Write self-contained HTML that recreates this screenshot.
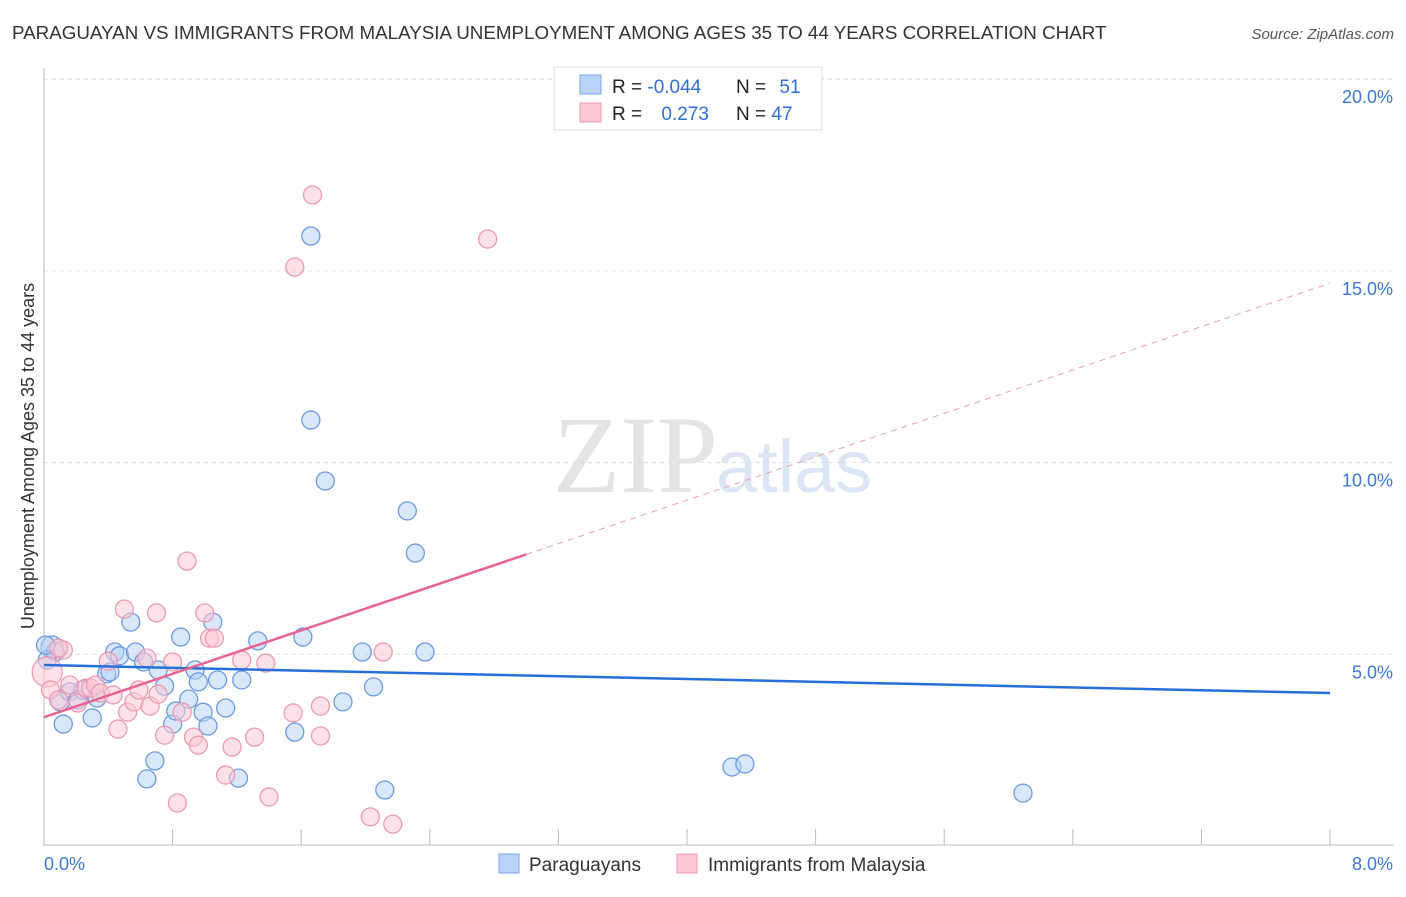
<!DOCTYPE html>
<html><head><meta charset="utf-8"><style>
body{margin:0;background:#fff;font-family:"Liberation Sans",sans-serif;}
svg text{font-family:"Liberation Sans",sans-serif;}
</style></head><body>
<svg id="c" width="1406" height="892" xmlns="http://www.w3.org/2000/svg">
<text x="12" y="39" font-size="18.8" fill="#333">PARAGUAYAN VS IMMIGRANTS FROM MALAYSIA UNEMPLOYMENT AMONG AGES 35 TO 44 YEARS CORRELATION CHART</text>
<text x="1394" y="39" font-size="15" fill="#555" text-anchor="end" font-style="italic">Source: ZipAtlas.com</text>
<text x="553" y="492" font-size="110" fill="#e4e4e4" style="font-family:'Liberation Serif',serif">ZIP</text>
<text x="716" y="492" font-size="74" fill="#dbe6f4">atlas</text>
<g id="grid"></g>
<g id="marks"></g>
<text transform="translate(34,456) rotate(-90)" font-size="18" fill="#333" text-anchor="middle">Unemployment Among Ages 35 to 44 years</text>
<g>
<rect x="554" y="67" width="268" height="63" fill="#fff" stroke="#ddd"/>
<rect x="580" y="75" width="21" height="19" fill="#b8d3f5" stroke="#7aa6e6"/>
<rect x="580" y="103" width="21" height="19" fill="#fbc8d6" stroke="#ee9ab2"/>
<text x="612" y="93" font-size="19" fill="#222">R = <tspan fill="#2f6fd6">-0.044</tspan></text>
<text x="736" y="93" font-size="19" fill="#222">N = <tspan fill="#2f6fd6" dx="8">51</tspan></text>
<text x="612" y="120" font-size="19" fill="#222">R = <tspan fill="#2f6fd6" dx="14">0.273</tspan></text>
<text x="736" y="120" font-size="19" fill="#222">N = <tspan fill="#2f6fd6">47</tspan></text>
</g>
<g>
<rect x="499" y="854" width="20" height="19" fill="#b8d3f5" stroke="#7aa6e6"/>
<text x="529" y="871" font-size="19" fill="#333">Paraguayans</text>
<rect x="677" y="854" width="20" height="19" fill="#fbc8d6" stroke="#ee9ab2"/>
<text x="708" y="871" font-size="19" fill="#333">Immigrants from Malaysia</text>
</g>
</svg>
<script>
const blueX=[0.05,0.07,0.10,0.12,0.16,0.21,0.24,0.30,0.33,0.39,0.41,0.44,0.47,0.54,0.57,0.62,0.64,0.69,0.71,0.75,0.80,0.82,0.85,0.90,0.94,0.96,0.99,1.02,1.05,1.08,1.13,1.21,1.23,1.33,1.56,1.61,1.66,1.66,1.75,1.86,1.98,2.05,2.12,2.26,2.31,2.37,4.28,4.36,6.09,0.02,0.01];
const blueY=[5.19,5.06,3.76,3.18,4.02,3.81,4.07,3.34,3.86,4.49,4.54,5.06,4.96,5.84,5.06,4.80,1.75,2.22,4.59,4.17,3.18,3.52,5.45,3.83,4.59,4.28,3.49,3.13,5.84,4.33,3.60,1.77,4.33,5.35,2.97,5.45,15.91,11.11,9.52,3.76,5.06,4.15,1.46,8.74,7.64,5.06,2.06,2.14,1.38,4.85,5.24];
const pinkX=[0.02,0.04,0.09,0.12,0.16,0.21,0.26,0.29,0.32,0.35,0.40,0.43,0.46,0.50,0.52,0.56,0.59,0.64,0.66,0.70,0.71,0.75,0.80,0.83,0.86,0.89,0.93,0.96,1.00,1.03,1.06,1.13,1.17,1.23,1.31,1.38,1.40,1.55,1.56,1.67,1.72,1.72,2.03,2.11,2.17,2.76,0.09];
const pinkY=[4.54,4.07,3.81,5.11,4.20,3.73,4.12,4.12,4.20,3.99,4.82,3.94,3.05,6.18,3.49,3.76,4.07,4.90,3.65,6.08,3.96,2.89,4.80,1.12,3.49,7.43,2.84,2.63,6.08,5.42,5.42,1.85,2.58,4.85,2.84,4.77,1.28,3.47,15.10,16.98,3.65,2.87,0.76,5.06,0.57,15.83,5.16];
const blueTrend=[4.72,3.99];
const pinkTrend=[3.36,14.68];
const pinkSolidEnd=3.0;
const yTicks=[5,10,15,20];
const yTickLabels=["5.0%","10.0%","15.0%","20.0%"];
const xTickCount=10;
const xMax=8;
const X=v=>44+v/xMax*1286;
const Y=v=>846-v/5*191.7;
const NS="http://www.w3.org/2000/svg";
function mk(p,t,a){const e=document.createElementNS(NS,t);for(const k in a)e.setAttribute(k,a[k]);p.appendChild(e);return e;}
const grid=document.getElementById('grid'),marks=document.getElementById('marks');
const ax=mk(grid,'line',{x1:44,y1:68,x2:44,y2:846,stroke:'#bbb'});


const bx=mk(grid,'line',{x1:44,y1:845,x2:1394,y2:845,stroke:'#bbb'});


yTicks.forEach((t,i)=>{
 const g=mk(grid,'line',{x1:44,y1:Y(t),x2:1394,y2:Y(t),stroke:'#ddd','stroke-dasharray':'4,4'});
 
 
 const l=mk(grid,'text',{x:1393,y:Y(t)+24,'font-size':18,fill:'#3b78d8','text-anchor':'end'});
 l.textContent=yTickLabels[i];
 
 
});
for(let i=1;i<=xTickCount;i++){
 const x=X(i*xMax/xTickCount);
 const t=mk(grid,'line',{x1:x,y1:829,x2:x,y2:845,stroke:'#bbb'});
 
 
}
const xl0=mk(grid,'text',{x:44,y:870,'font-size':18,fill:'#3b78d8'});xl0.textContent='0.0%';


const xl1=mk(grid,'text',{x:1393,y:870,'font-size':18,fill:'#3b78d8','text-anchor':'end'});xl1.textContent='8.0%';


function dot(x,y,r,fill,stroke,name){
 const c=mk(marks,'circle',{cx:X(x),cy:Y(y),r:r,fill:fill,'fill-opacity':0.55,stroke:stroke,'stroke-width':1.3});
 
 
}
blueX.forEach((x,i)=>dot(x,blueY[i],i===0?11:9,'#b8d3f5','#6c9be0','point-paraguayans'));
pinkX.forEach((x,i)=>dot(x,pinkY[i],i===0?15:9,'#fbc8d6','#ec9ab2','point-malaysia'));
const bl=mk(marks,'line',{x1:X(0),y1:Y(blueTrend[0]),x2:X(xMax),y2:Y(blueTrend[1]),stroke:'#2570d8','stroke-width':2.5});


const slope=(pinkTrend[1]-pinkTrend[0])/xMax;
const pl=mk(marks,'line',{x1:X(0),y1:Y(pinkTrend[0]),x2:X(pinkSolidEnd),y2:Y(pinkTrend[0]+slope*pinkSolidEnd),stroke:'#e8638f','stroke-width':2.5});


const pd=mk(marks,'line',{x1:X(pinkSolidEnd),y1:Y(pinkTrend[0]+slope*pinkSolidEnd),x2:X(xMax),y2:Y(pinkTrend[1]),stroke:'#eaa0b8','stroke-width':1,'stroke-dasharray':'6,5'});


</script>
</body></html>
